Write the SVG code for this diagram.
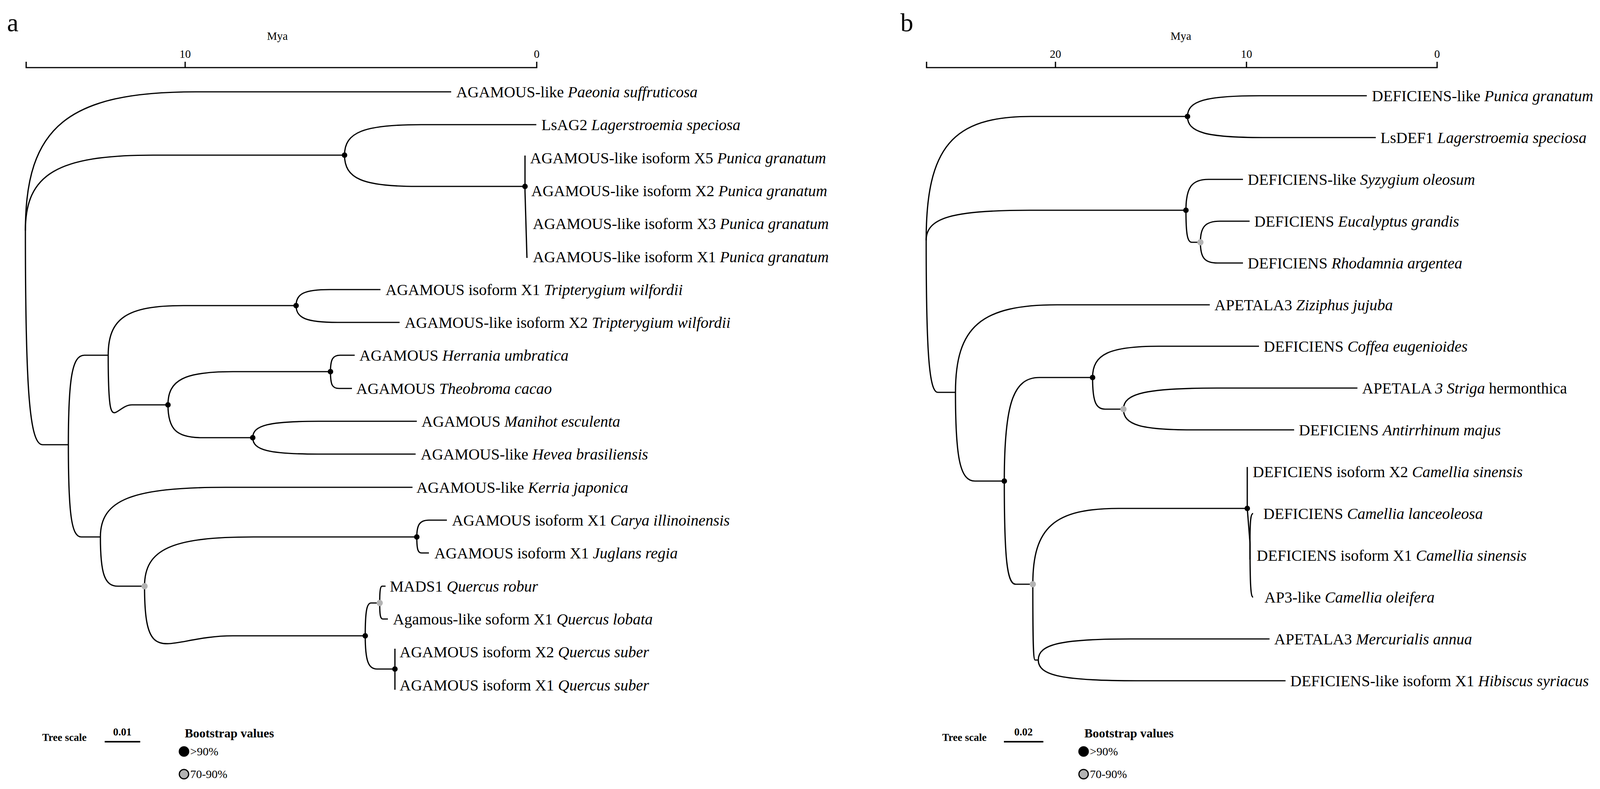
<svg xmlns="http://www.w3.org/2000/svg" width="4143" height="2019" viewBox="0 0 4143 2019">
<style>
text{font-family:"Liberation Serif","Times New Roman",serif;fill:#000}
.lf{font-size:40px}
.ax{font-size:29px}
.pl{font-size:66px}
.lg{font-size:27px;font-weight:bold}
.lgt{font-size:32px;font-weight:bold}
.lv{font-size:30px}
.e{fill:none;stroke:#000;stroke-width:3.2}
.bk{fill:#000}
.gy{fill:#b3b3b3}
.lgc{stroke:#000;stroke-width:3}
</style>
<rect width="4143" height="2019" fill="#fff"/>
<g id="panel-a-axis">
<text class="pl" x="18" y="80">a</text>
<text class="ax" x="710" y="102" text-anchor="middle">Mya</text>
<text class="ax" x="474" y="148" text-anchor="middle">10</text>
<text class="ax" x="1374" y="148" text-anchor="middle">0</text>
<path class="e" d="M67,158 V173 H1374 V158 M474,158 V173" stroke-width="2.5"/>
</g>
<g id="panel-b-axis">
<text class="pl" x="2305" y="80">b</text>
<text class="ax" x="3023" y="102" text-anchor="middle">Mya</text>
<text class="ax" x="2702" y="148" text-anchor="middle">20</text>
<text class="ax" x="3191" y="148" text-anchor="middle">10</text>
<text class="ax" x="3679" y="148" text-anchor="middle">0</text>
<path class="e" d="M2372,158 V173 H3679 V158 M2702,158 V173 M3191,158 V173" stroke-width="2.5"/>
</g>
<g id="connectors">
<path class="e" d="M65,590 C65,324 174,235 501,235 L1155,235"/>
<path class="e" d="M65,590 C65,445 147,397 392,397 L882,397"/>
<path class="e" d="M65,590 C65,1001 76,1138 109,1138 L175,1138"/>
<path class="e" d="M882,397 C882,338 931,319 1078,319 L1373,319"/>
<path class="e" d="M882,397 C882,457 928,477 1067,477 L1344,477"/>
<path class="e" d="M1344,398 L1344,490 L1349,660"/>
<path class="e" d="M175,1138 C175,967 185,909 216,909 L277,909"/>
<path class="e" d="M175,1138 C175,1315 183,1374 208,1374 L257,1374"/>
<path class="e" d="M277,909 C277,814 325,782 469,782 L758,782"/>
<path class="e" d="M277,909 C277,1131 292,1036 338,1036 L430,1036"/>
<path class="e" d="M758,782 C758,751 780,741 844,741 L974,741"/>
<path class="e" d="M758,782 C758,814 784,825 864,825 L1023,825"/>
<path class="e" d="M430,1036 C430,972 472,951 596,951 L846,951"/>
<path class="e" d="M430,1036 C430,1099 452,1120 517,1120 L647,1120"/>
<path class="e" d="M846,951 C846,919 852,909 871,909 L908,909"/>
<path class="e" d="M846,951 C846,986 851,994 868,994 L901,994"/>
<path class="e" d="M647,1120 C647,1088 689,1078 815,1078 L1067,1078"/>
<path class="e" d="M647,1120 C647,1152 689,1162 814,1162 L1064,1162"/>
<path class="e" d="M257,1374 C257,1279 337,1247 577,1247 L1056,1247"/>
<path class="e" d="M257,1374 C257,1469 268,1500 302,1500 L370,1500"/>
<path class="e" d="M370,1500 C370,1405 440,1374 649,1374 L1067,1374"/>
<path class="e" d="M370,1500 C370,1722 426,1627 596,1627 L935,1627"/>
<path class="e" d="M1067,1374 C1067,1342 1075,1331 1098,1331 L1144,1331"/>
<path class="e" d="M1067,1374 C1067,1406 1070,1415 1079,1415 L1098,1415"/>
<path class="e" d="M935,1627 C935,1564 939,1543 950,1543 L972,1543"/>
<path class="e" d="M935,1627 C935,1691 943,1712 965,1712 L1011,1712"/>
<path class="e" d="M972,1543 C972,1511 974,1500 978,1500 L987,1500"/>
<path class="e" d="M972,1543 C972,1575 974,1584 980,1584 L993,1584"/>
<path class="e" d="M1011,1660 V1765"/>

<path class="e" d="M2371,615 C2371,377 2438,298 2639,298 L3040,298"/>
<path class="e" d="M2371,615 C2371,557 2438,538 2637,538 L3036,538"/>
<path class="e" d="M2371,615 C2371,907 2379,1004 2401,1004 L2446,1004"/>
<path class="e" d="M3040,298 C3040,258 3086,245 3224,245 L3499,245"/>
<path class="e" d="M3040,298 C3040,339 3088,352 3233,352 L3522,352"/>
<path class="e" d="M3036,538 C3036,479 3051,459 3094,459 L3182,459"/>
<path class="e" d="M3036,538 C3036,600 3040,620 3051,620 L3073,620"/>
<path class="e" d="M3073,620 C3073,580 3086,566 3123,566 L3199,566"/>
<path class="e" d="M3073,620 C3073,660 3084,673 3117,673 L3182,673"/>
<path class="e" d="M2446,1004 C2446,836 2511,780 2706,780 L3097,780"/>
<path class="e" d="M2446,1004 C2446,1174 2458,1231 2496,1231 L2571,1231"/>
<path class="e" d="M2571,1231 C2571,1032 2594,966 2661,966 L2797,966"/>
<path class="e" d="M2571,1231 C2571,1429 2578,1495 2600,1495 L2644,1495"/>
<path class="e" d="M2797,966 C2797,906 2840,886 2967,886 L3223,886"/>
<path class="e" d="M2797,966 C2797,1027 2805,1047 2829,1047 L2876,1047"/>
<path class="e" d="M2876,1047 C2876,1006 2936,993 3116,993 L3475,993"/>
<path class="e" d="M2876,1047 C2876,1087 2920,1100 3051,1100 L3313,1100"/>
<path class="e" d="M2644,1495 C2644,1349 2699,1301 2864,1301 L3193,1301"/>
<path class="e" d="M2644,1495 C2644,1640 2645,1689 2650,1689 L2658,1689"/>
<path class="e" d="M2658,1689 C2658,1648 2717,1635 2895,1635 L3250,1635"/>
<path class="e" d="M2658,1689 C2658,1729 2721,1742 2911,1742 L3291,1742"/>
<path class="e" d="M3193,1195 V1301 L3200,1390"/>
<path class="e" d="M3200,1390 C3200,1330 3202,1314 3208,1314"/>
<path class="e" d="M3200,1390 V1432"/>
<path class="e" d="M3200,1390 C3200,1500 3202,1528 3208,1528"/>
</g>
<g id="nodes-a">
<circle class="bk" cx="882" cy="397" r="7"/>
<circle class="bk" cx="1344" cy="477" r="7"/>
<circle class="bk" cx="758" cy="782" r="7"/>
<circle class="bk" cx="846" cy="951" r="7"/>
<circle class="bk" cx="430" cy="1036" r="7"/>
<circle class="bk" cx="647" cy="1120" r="7"/>
<circle class="bk" cx="1067" cy="1374" r="7"/>
<circle class="gy" cx="370" cy="1500" r="8"/>
<circle class="gy" cx="972" cy="1543" r="8"/>
<circle class="bk" cx="935" cy="1627" r="7"/>
<circle class="bk" cx="1011" cy="1712" r="7"/>
</g>
<g id="nodes-b">
<circle class="bk" cx="3040" cy="298" r="7"/>
<circle class="bk" cx="3036" cy="538" r="7"/>
<circle class="gy" cx="3073" cy="620" r="8"/>
<circle class="bk" cx="2797" cy="966" r="7"/>
<circle class="gy" cx="2876" cy="1047" r="8"/>
<circle class="bk" cx="2571" cy="1231" r="7"/>
<circle class="bk" cx="3193" cy="1301" r="7"/>
<circle class="gy" cx="2644" cy="1495" r="8"/>
</g>
<g id="leaves-a" class="lf">
<text class="lf" x="1168" y="249">AGAMOUS-like <tspan font-style="italic">Paeonia suffruticosa</tspan></text>
<text class="lf" x="1386" y="333">LsAG2 <tspan font-style="italic">Lagerstroemia speciosa</tspan></text>
<text class="lf" x="1357" y="418">AGAMOUS-like isoform X5 <tspan font-style="italic">Punica granatum</tspan></text>
<text class="lf" x="1360" y="502">AGAMOUS-like isoform X2 <tspan font-style="italic">Punica granatum</tspan></text>
<text class="lf" x="1364" y="586">AGAMOUS-like isoform X3 <tspan font-style="italic">Punica granatum</tspan></text>
<text class="lf" x="1364" y="671">AGAMOUS-like isoform X1 <tspan font-style="italic">Punica granatum</tspan></text>
<text class="lf" x="987" y="755">AGAMOUS isoform X1 <tspan font-style="italic">Tripterygium wilfordii</tspan></text>
<text class="lf" x="1036" y="839">AGAMOUS-like isoform X2 <tspan font-style="italic">Tripterygium wilfordii</tspan></text>
<text class="lf" x="920" y="923">AGAMOUS <tspan font-style="italic">Herrania umbratica</tspan></text>
<text class="lf" x="912" y="1008">AGAMOUS <tspan font-style="italic">Theobroma cacao</tspan></text>
<text class="lf" x="1079" y="1092">AGAMOUS <tspan font-style="italic">Manihot esculenta</tspan></text>
<text class="lf" x="1077" y="1176">AGAMOUS-like <tspan font-style="italic">Hevea brasiliensis</tspan></text>
<text class="lf" x="1066" y="1261">AGAMOUS-like <tspan font-style="italic">Kerria japonica</tspan></text>
<text class="lf" x="1157" y="1345">AGAMOUS isoform X1 <tspan font-style="italic">Carya illinoinensis</tspan></text>
<text class="lf" x="1112" y="1429">AGAMOUS isoform X1 <tspan font-style="italic">Juglans regia</tspan></text>
<text class="lf" x="998" y="1514">MADS1 <tspan font-style="italic">Quercus robur</tspan></text>
<text class="lf" x="1006" y="1598">Agamous-like soform X1 <tspan font-style="italic">Quercus lobata</tspan></text>
<text class="lf" x="1023" y="1682">AGAMOUS isoform X2 <tspan font-style="italic">Quercus suber</tspan></text>
<text class="lf" x="1023" y="1767">AGAMOUS isoform X1 <tspan font-style="italic">Quercus suber</tspan></text>
</g>
<g id="leaves-b">
<text class="lf" x="3512" y="259">DEFICIENS-like <tspan font-style="italic">Punica granatum</tspan></text>
<text class="lf" x="3534" y="366">LsDEF1 <tspan font-style="italic">Lagerstroemia speciosa</tspan></text>
<text class="lf" x="3194" y="473">DEFICIENS-like <tspan font-style="italic">Syzygium oleosum</tspan></text>
<text class="lf" x="3211" y="580">DEFICIENS <tspan font-style="italic">Eucalyptus grandis</tspan></text>
<text class="lf" x="3194" y="687">DEFICIENS <tspan font-style="italic">Rhodamnia argentea</tspan></text>
<text class="lf" x="3109" y="794">APETALA3 <tspan font-style="italic">Ziziphus jujuba</tspan></text>
<text class="lf" x="3235" y="900">DEFICIENS <tspan font-style="italic">Coffea eugenioides</tspan></text>
<text class="lf" x="3487" y="1007">APETALA <tspan font-style="italic">3 Striga</tspan> hermonthica</text>
<text class="lf" x="3325" y="1114">DEFICIENS <tspan font-style="italic">Antirrhinum majus</tspan></text>
<text class="lf" x="3207" y="1221">DEFICIENS isoform X2 <tspan font-style="italic">Camellia sinensis</tspan></text>
<text class="lf" x="3234" y="1328">DEFICIENS <tspan font-style="italic">Camellia lanceoleosa</tspan></text>
<text class="lf" x="3217" y="1435">DEFICIENS isoform X1 <tspan font-style="italic">Camellia sinensis</tspan></text>
<text class="lf" x="3237" y="1542">AP3-like <tspan font-style="italic">Camellia oleifera</tspan></text>
<text class="lf" x="3262" y="1649">APETALA3 <tspan font-style="italic">Mercurialis annua</tspan></text>
<text class="lf" x="3303" y="1756">DEFICIENS-like isoform X1 <tspan font-style="italic">Hibiscus syriacus</tspan></text>
</g>
<g id="legend-a">
<text class="lg" x="108" y="1896">Tree scale</text>
<text class="lg" x="313" y="1882" text-anchor="middle">0.01</text>
<path d="M268,1898 H359" stroke="#000" stroke-width="4"/>
<text class="lgt" x="473" y="1887">Bootstrap values</text>
<circle class="bk lgc" cx="471" cy="1923" r="12"/>
<text class="lv" x="487" y="1933">&gt;90%</text>
<circle class="gy lgc" cx="471" cy="1981" r="12"/>
<text class="lv" x="487" y="1991">70-90%</text>
</g>
<g id="legend-b">
<text class="lg" x="2412" y="1896">Tree scale</text>
<text class="lg" x="2620" y="1882" text-anchor="middle">0.02</text>
<path d="M2570,1898 H2671" stroke="#000" stroke-width="4"/>
<text class="lgt" x="2776" y="1887">Bootstrap values</text>
<circle class="bk lgc" cx="2774" cy="1923" r="12"/>
<text class="lv" x="2790" y="1933">&gt;90%</text>
<circle class="gy lgc" cx="2774" cy="1981" r="12"/>
<text class="lv" x="2790" y="1991">70-90%</text>
</g>
</svg>
